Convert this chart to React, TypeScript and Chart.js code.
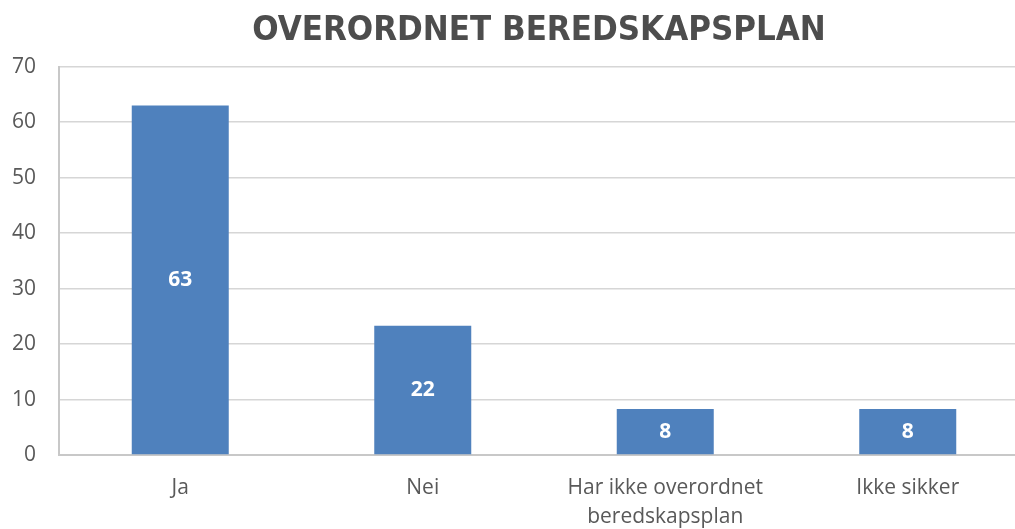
import React, { useEffect, useRef } from "react";
import { Chart, registerables } from "chart.js";

Chart.register(...registerables);

const categories: (string | string[])[] = [
  "Ja",
  "Nei",
  ["Har ikke overordnet", "beredskapsplan"],
  "Ikke sikker",
];
const barValues = [63, 23.3, 8.3, 8.3];
const dataLabels = ["63", "22", "8", "8"];
const titleText = "OVERORDNET BEREDSKAPSPLAN";
const yMin = 0;
const yMax = 70;
const yStep = 10;

const TICK_FONT = "'Open Sans', 'Noto Sans', sans-serif";

const barLabelPlugin = {
  id: "barLabelPlugin",
  afterDatasetsDraw(chart: any) {
    const ctx = chart.ctx;
    const meta = chart.getDatasetMeta(0);
    ctx.save();
    ctx.fillStyle = "#ffffff";
    ctx.font = `bold 21px ${TICK_FONT}`;
    ctx.textAlign = "center";
    ctx.textBaseline = "middle";
    meta.data.forEach((el: any, i: number) => {
      const y = (el.y + el.base) / 2;
      ctx.fillText(dataLabels[i], el.x, y);
    });
    ctx.restore();
  },
};

export default function App() {
  const canvasRef = useRef<HTMLCanvasElement | null>(null);

  useEffect(() => {
    if (!canvasRef.current) return;
    const chart = new Chart(canvasRef.current, {
      type: "bar",
      data: {
        labels: categories,
        datasets: [
          {
            data: barValues,
            backgroundColor: "#4f81bd",
            borderWidth: 0,
            barPercentage: 0.4,
            categoryPercentage: 1,
          },
        ],
      },
      options: {
        responsive: false,
        animation: false,
        devicePixelRatio: 1,
        layout: { padding: { left: 0, right: 0, top: 0, bottom: 3 } },
        plugins: {
          legend: { display: false },
          tooltip: { enabled: false },
          title: {
            display: true,
            text: titleText,
            color: "#4d4d4d",
            font: {
              family: "'DejaVu Sans Condensed', 'DejaVu Sans', sans-serif",
              weight: "bold",
              size: 34.5,
              lineHeight: 1.2,
            },
            padding: { top: 10, bottom: 15.3 },
          },
        },
        scales: {
          x: {
            grid: { display: false, drawTicks: false },
            border: { display: true, color: "#c8c8c8", width: 2 },
            ticks: {
              color: "#595959",
              padding: 19,
              font: { family: TICK_FONT, size: 21, lineHeight: "29px" },
              maxRotation: 0,
              autoSkip: false,
            },
            afterFit: (scale: any) => {
              scale.height = 77;
            },
          },
          y: {
            min: yMin,
            max: yMax,
            grid: { color: "#d6d6d6", lineWidth: 1.5, drawTicks: false },
            border: { display: true, color: "#c8c8c8", width: 2 },
            ticks: {
              stepSize: yStep,
              color: "#595959",
              padding: 23,
              font: { family: TICK_FONT, size: 21, lineHeight: 1.2 },
            },
            afterFit: (scale: any) => {
              scale.width = 59;
            },
          },
          ySpacer: {
            type: "linear",
            position: "right",
            display: true,
            min: yMin,
            max: yMax,
            grid: { display: false, drawTicks: false },
            border: { display: false },
            ticks: { display: false },
            afterFit: (scale: any) => {
              scale.width = 49;
            },
          },
        },
      },
      plugins: [barLabelPlugin],
    });
    return () => chart.destroy();
  }, []);

  return (
    <div
      style={{
        position: "fixed",
        left: 0,
        top: 0,
        width: 1015,
        height: 529,
        overflow: "hidden",
        background: "#ffffff",
      }}
    >
      <canvas ref={canvasRef} width={1078} height={535} style={{ display: "block" }} />
    </div>
  );
}
